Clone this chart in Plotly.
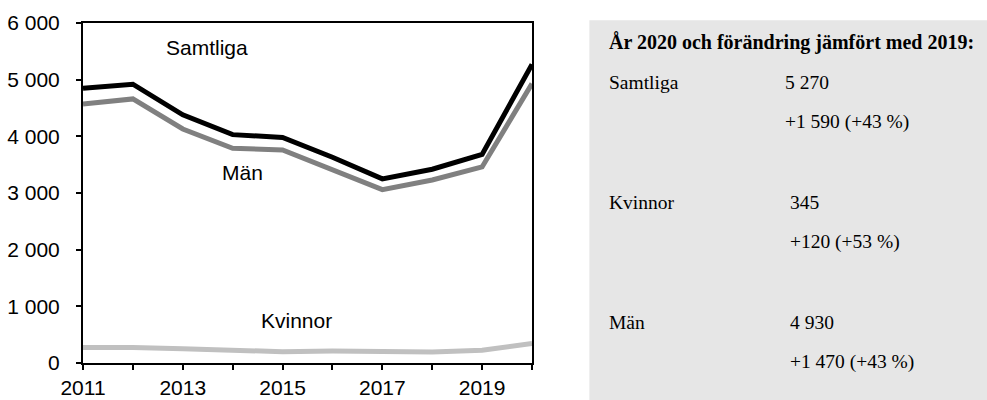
import plotly.graph_objects as go

years = [2011, 2012, 2013, 2014, 2015, 2016, 2017, 2018, 2019, 2020]
samtliga = [4850, 4920, 4380, 4030, 3980, 3630, 3250, 3420, 3680, 5270]
man = [4570, 4660, 4130, 3790, 3760, 3420, 3060, 3230, 3460, 4930]
kvinnor = [275, 275, 250, 235, 200, 210, 195, 195, 225, 345]

y_ticks = [0, 1000, 2000, 3000, 4000, 5000, 6000]
y_tick_labels = ["0", "1 000", "2 000", "3 000", "4 000", "5 000", "6 000"]
x_ticks = [2011, 2013, 2015, 2017, 2019]

series_labels = [("Samtliga", 2013.48, 5560), ("Män", 2014.19, 3370), ("Kvinnor", 2015.28, 753)]

panel_title = "År 2020 och förändring jämfört med 2019:"
panel_rows = [
    ("Samtliga", "5 270", "+1 590 (+43 %)"),
    ("Kvinnor", "345", "+120 (+53 %)"),
    ("Män", "4 930", "+1 470 (+43 %)"),
]

W, H = 987, 400
ML, MR, MT, MB = 82.5, 454.5, 22.7, 37.3
PW = W - ML - MR
PH = H - MT - MB


def px(x):
    return (x - ML) / PW


def py(y):
    return (H - MB - y) / PH


fig = go.Figure()
fig.add_trace(go.Scatter(x=years, y=kvinnor, mode="lines", line=dict(color="#c0c0c0", width=5), name="Kvinnor"))
fig.add_trace(go.Scatter(x=years, y=man, mode="lines", line=dict(color="#808080", width=5), name="Män"))
fig.add_trace(go.Scatter(x=years, y=samtliga, mode="lines", line=dict(color="#000000", width=5), name="Samtliga"))

sans = "Liberation Sans, Arial, sans-serif"
fig.update_layout(
    width=W, height=H,
    margin=dict(l=ML, r=MR, t=MT, b=MB, pad=0, autoexpand=False),
    paper_bgcolor="white", plot_bgcolor="white",
    showlegend=False,
    font=dict(family=sans, size=20, color="black"),
)
fig.update_xaxes(
    range=[2011, 2020], tickmode="array", tickvals=years,
    ticktext=[str(y) if y in x_ticks else "" for y in years],
    ticks="outside", ticklen=5, tickcolor="black", tickwidth=1.5,
    showline=True, linecolor="black", linewidth=2, mirror=True,
    showgrid=False, zeroline=False, tickfont=dict(family=sans, size=21, color="black"),
    ticklabelstandoff=0, automargin=False,
)
fig.update_yaxes(
    range=[0, 6000], tickmode="array", tickvals=y_ticks, ticktext=y_tick_labels,
    ticks="outside", ticklen=5, tickcolor="black", tickwidth=1.5,
    showline=True, linecolor="black", linewidth=2, mirror=True,
    showgrid=False, zeroline=False, tickfont=dict(family=sans, size=21, color="black"),
    ticklabelstandoff=12, automargin=False,
)

for text, xv, yv in series_labels:
    fig.add_annotation(x=xv, y=yv, text=text, showarrow=False, xref="x", yref="y",
                       font=dict(family=sans, size=21, color="black"))

# right panel
fig.add_shape(type="rect", xref="paper", yref="paper",
              x0=px(590), x1=px(992), y0=py(20), y1=py(405),
              fillcolor="#e6e6e6", line=dict(width=0), layer="below")
serif = "Liberation Serif, Times New Roman, serif"
fig.add_annotation(xref="paper", yref="paper", x=px(608), y=py(42), xanchor="left", yanchor="middle",
                   text="<b>" + panel_title + "</b>", showarrow=False,
                   font=dict(family=serif, size=20, color="black"))
row_y = [82, 202, 322]
val_x = [784, 789, 789]
for (lab, val, chg), ry, vx in zip(panel_rows, row_y, val_x):
    fig.add_annotation(xref="paper", yref="paper", x=px(608), y=py(ry), xanchor="left", yanchor="middle",
                       text=lab, showarrow=False, font=dict(family=serif, size=19.5, color="black"))
    fig.add_annotation(xref="paper", yref="paper", x=px(vx), y=py(ry), xanchor="left", yanchor="middle",
                       text=val, showarrow=False, font=dict(family=serif, size=19.5, color="black"))
    fig.add_annotation(xref="paper", yref="paper", x=px(vx), y=py(ry + 40), xanchor="left", yanchor="middle",
                       text=chg, showarrow=False, font=dict(family=serif, size=19.5, color="black"))

fig.write_html("out.html", config={"displayModeBar": False},
               post_script="document.body.style.margin='0';document.body.style.overflow='hidden';")
